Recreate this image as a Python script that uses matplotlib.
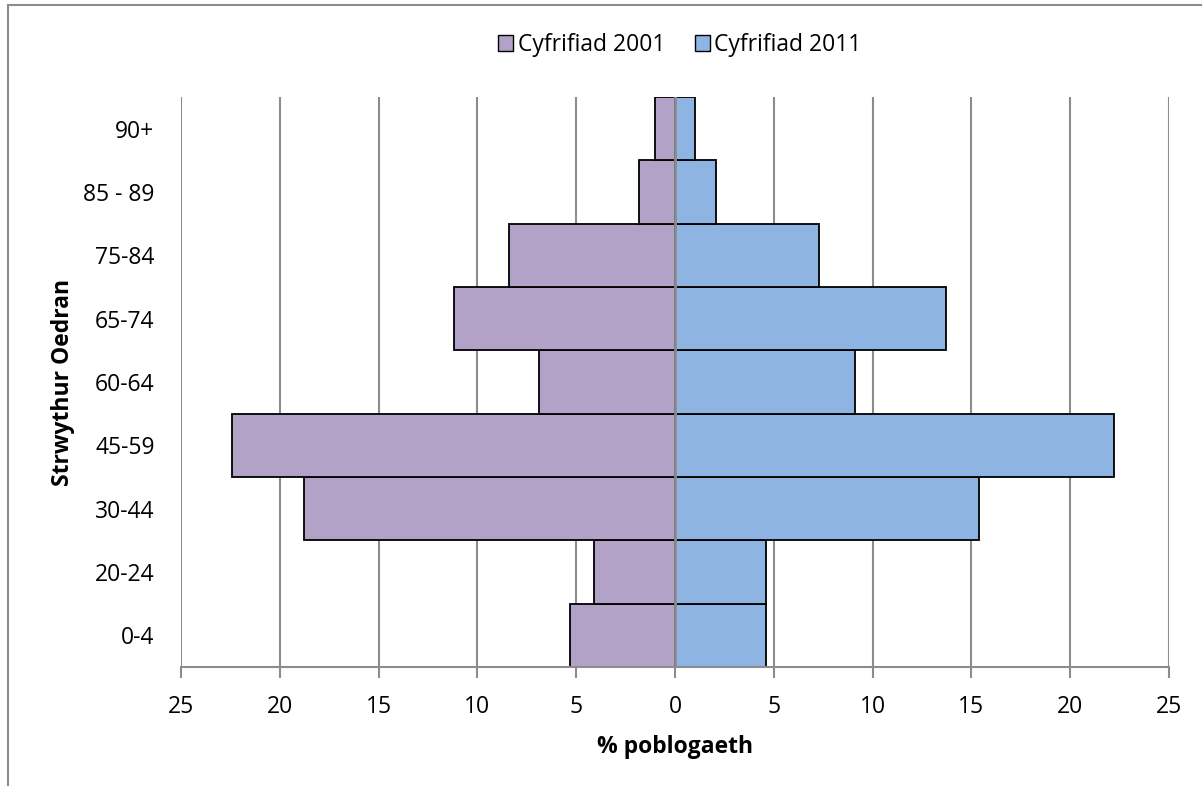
import numpy as np
import matplotlib.pyplot as plt
from matplotlib.lines import Line2D
from matplotlib.patches import Patch

plt.rcParams['font.family'] = ['Open Sans', 'DejaVu Sans']

age_groups = ['0-4', '20-24', '30-44', '45-59', '60-64', '65-74', '75-84', '85 - 89', '90+']
census_2001 = [5.3, 4.1, 18.8, 22.4, 6.9, 11.2, 8.4, 1.8, 1.0]
census_2011 = [4.6, 4.6, 15.4, 22.2, 9.1, 13.7, 7.3, 2.1, 1.0]
x_ticks = [-25, -20, -15, -10, -5, 0, 5, 10, 15, 20, 25]

purple = '#b3a2c7'
blue = '#8eb4e3'
grid_grey = '#8c8c8c'
fs = 16.5

fig = plt.figure(figsize=(12.02, 7.86), dpi=100)
ax = fig.add_axes([181 / 1202, 1 - 667 / 786, (1169 - 181) / 1202, (667 - 97) / 786])

y = np.arange(len(age_groups))
ax.barh(y, -np.array(census_2001), height=1.0, color=purple, edgecolor='black',
        linewidth=1.3, zorder=2)
ax.barh(y, census_2011, height=1.0, color=blue, edgecolor='black',
        linewidth=1.3, zorder=2)

ax.set_xlim(-25, 25)
ax.set_ylim(-0.5, len(age_groups) - 0.5)
ax.set_xticks(x_ticks)
ax.set_xticklabels([str(abs(t)) for t in x_ticks], fontsize=fs)
ax.set_yticks(y)
ax.set_yticklabels(age_groups, fontsize=fs)

for t in x_ticks:
    if t != 0:
        ax.axvline(t, color=grid_grey, linewidth=1.5, zorder=1)
ax.axvline(0, color=grid_grey, linewidth=2, zorder=3)

for s in ['top', 'right', 'left']:
    ax.spines[s].set_visible(False)
ax.spines['bottom'].set_color(grid_grey)
ax.spines['bottom'].set_linewidth(1.5)
ax.tick_params(axis='x', direction='out', length=8, width=1.5, color=grid_grey, pad=12)
ax.tick_params(axis='y', length=0, pad=19)

ax.set_xlabel('% poblogaeth', fontsize=fs, fontweight='bold', labelpad=12)
ax.set_ylabel('Strwythur Oedran', fontsize=fs, fontweight='bold', labelpad=6)

handles = [Patch(facecolor=purple, edgecolor='black', linewidth=1),
           Patch(facecolor=blue, edgecolor='black', linewidth=1)]
fig.legend(handles, ['Cyfrifiad 2001', 'Cyfrifiad 2011'], loc='center',
           bbox_to_anchor=(680 / 1202, 1 - 45 / 786), ncol=2, frameon=False,
           fontsize=fs, handlelength=0.65, handleheight=0.65, handletextpad=0.2,
           columnspacing=1.3)

# outer chart border (only left and top edges visible)
fig.add_artist(Line2D([8 / 1202, 8 / 1202], [0, 1 - 5 / 786], color=grid_grey, linewidth=1.5))
fig.add_artist(Line2D([8 / 1202, 1], [1 - 5 / 786, 1 - 5 / 786], color=grid_grey, linewidth=1.5))

fig.savefig('out.png', dpi=100)
